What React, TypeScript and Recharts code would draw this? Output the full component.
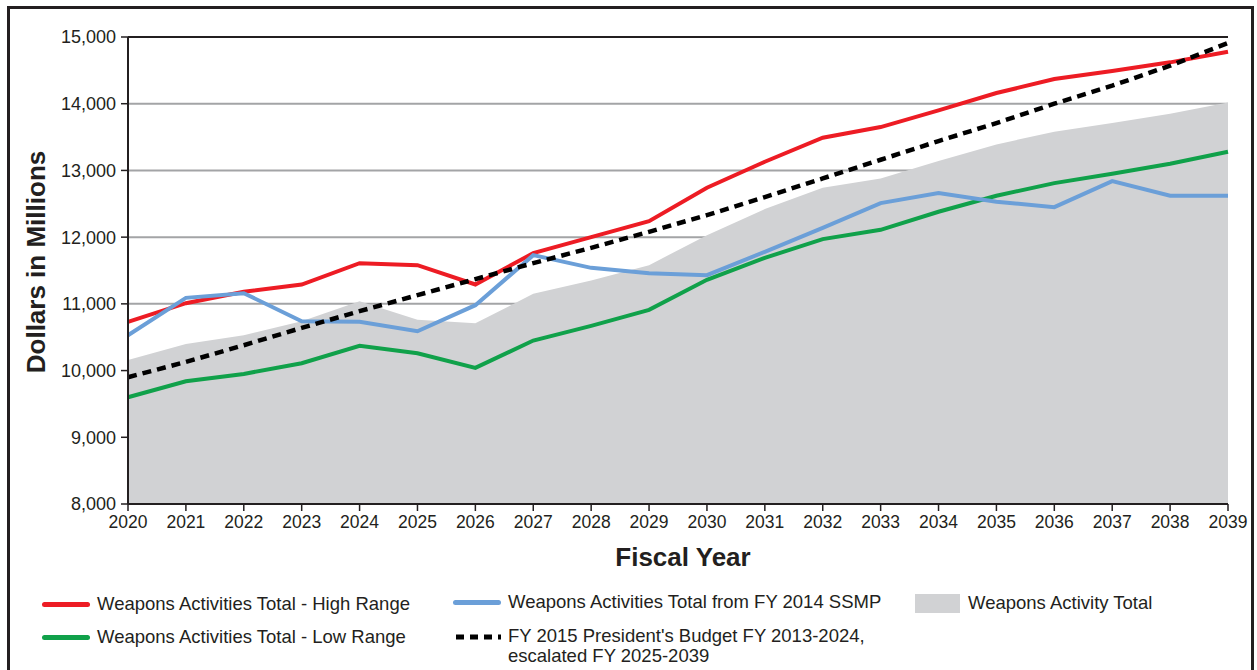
import React from 'react';
import { ComposedChart, Area, Line, XAxis, YAxis, CartesianGrid, ReferenceLine } from 'recharts';

const years = [2020, 2021, 2022, 2023, 2024, 2025, 2026, 2027, 2028, 2029, 2030, 2031, 2032, 2033, 2034, 2035, 2036, 2037, 2038, 2039];
const highRange = [10730, 11010, 11180, 11290, 11610, 11580, 11290, 11760, 12000, 12240, 12740, 13130, 13490, 13650, 13900, 14160, 14370, 14490, 14620, 14780];
const lowRange = [9600, 9840, 9950, 10110, 10370, 10260, 10040, 10450, 10670, 10910, 11360, 11690, 11970, 12110, 12380, 12620, 12810, 12950, 13100, 13280];
const ssmp2014 = [10530, 11090, 11160, 10740, 10730, 10590, 10980, 11730, 11540, 11460, 11430, 11780, 12140, 12510, 12660, 12530, 12450, 12840, 12620, 12620];
const pb2015 = [9900, 10130, 10380, 10640, 10890, 11130, 11370, 11610, 11840, 12080, 12330, 12600, 12880, 13160, 13440, 13710, 14000, 14270, 14570, 14910];
const activityTotal = [10160, 10400, 10530, 10740, 11040, 10760, 10710, 11150, 11350, 11580, 12030, 12420, 12740, 12880, 13140, 13390, 13580, 13710, 13850, 14020];
const yTicks = [8000, 9000, 10000, 11000, 12000, 13000, 14000, 15000];

const data = years.map((year, i) => ({
  year,
  high: highRange[i],
  low: lowRange[i],
  ssmp: ssmp2014[i],
  pb: pb2015[i],
  total: activityTotal[i],
}));

const FONT = '"Liberation Sans", Arial, Helvetica, sans-serif';
const RED = '#ed1c24';
const GREEN = '#10a14a';
const BLUE = '#6b9fd8';
const GRAY = '#d1d2d4';
const INK = '#231f20';

const legendText: React.CSSProperties = {
  position: 'absolute',
  fontFamily: FONT,
  fontSize: 18.5,
  color: INK,
  lineHeight: '20px',
  whiteSpace: 'nowrap',
};

const LineSwatch = ({ x, y, color }: { x: number; y: number; color: string }) => (
  <div style={{ position: 'absolute', left: x, top: y - 2.5, width: 48, height: 5, borderRadius: 3, background: color }} />
);

const App: React.FC = () => {
  return (
    <div style={{ position: 'fixed', left: 0, top: 0, width: 1257, height: 670, background: '#fff', overflow: 'hidden' }}>
      <div style={{ position: 'absolute', left: 7, top: 6, width: 1241, height: 700, border: `3px solid ${INK}` }} />

      <div style={{ position: 'absolute', left: 0, top: 0 }}>
        <ComposedChart width={1257} height={540} data={data} margin={{ top: 37, right: 29, left: 0, bottom: 0 }}>
          <CartesianGrid vertical={false} stroke="#a3a4a6" strokeWidth={2} />
          <XAxis
            dataKey="year"
            type="number"
            domain={[2020, 2039]}
            ticks={years}
            height={36}
            tickSize={7}
            tickMargin={5}
            axisLine={{ stroke: INK, strokeWidth: 2 }}
            tickLine={{ stroke: INK, strokeWidth: 1.5 }}
            tick={{ fill: INK, fontSize: 17.5, fontFamily: FONT }}
          />
          <YAxis
            type="number"
            domain={[8000, 15000]}
            ticks={yTicks}
            width={128}
            tickSize={7}
            tickMargin={5}
            axisLine={{ stroke: INK, strokeWidth: 2 }}
            tickLine={{ stroke: INK, strokeWidth: 1.5 }}
            tick={{ fill: INK, fontSize: 18, fontFamily: FONT }}
            tickFormatter={(v: number) => v.toLocaleString('en-US')}
          />
          <Area dataKey="total" type="linear" fill={GRAY} fillOpacity={1} stroke="none" isAnimationActive={false} />
          <ReferenceLine y={15000} stroke={INK} strokeWidth={2} />
          <Line dataKey="low" type="linear" stroke={GREEN} strokeWidth={4} dot={false} isAnimationActive={false} />
          <Line dataKey="high" type="linear" stroke={RED} strokeWidth={4} dot={false} isAnimationActive={false} />
          <Line dataKey="ssmp" type="linear" stroke={BLUE} strokeWidth={4} dot={false} isAnimationActive={false} />
          <Line dataKey="pb" type="linear" stroke="#000" strokeWidth={4.5} strokeDasharray="9 6" dot={false} isAnimationActive={false} />
        </ComposedChart>
      </div>

      <div
        style={{
          position: 'absolute',
          left: 36,
          top: 262,
          transform: 'translate(-50%, -50%) rotate(-90deg)',
          transformOrigin: 'center',
          fontFamily: FONT,
          fontWeight: 'bold',
          fontSize: 26,
          color: INK,
          whiteSpace: 'nowrap',
        }}
      >
        Dollars in Millions
      </div>
      <div
        style={{
          position: 'absolute',
          left: 683,
          top: 557,
          transform: 'translate(-50%, -50%)',
          fontFamily: FONT,
          fontWeight: 'bold',
          fontSize: 26,
          color: INK,
          whiteSpace: 'nowrap',
        }}
      >
        Fiscal Year
      </div>

      {/* legend */}
      <LineSwatch x={42} y={604} color={RED} />
      <div style={{ ...legendText, left: 97, top: 594 }}>Weapons Activities Total - High Range</div>
      <LineSwatch x={42} y={637} color={GREEN} />
      <div style={{ ...legendText, left: 97, top: 627 }}>Weapons Activities Total - Low Range</div>

      <LineSwatch x={453} y={602} color={BLUE} />
      <div style={{ ...legendText, left: 508, top: 592 }}>Weapons Activities Total from FY 2014 SSMP</div>
      <svg style={{ position: 'absolute', left: 453, top: 632 }} width={50} height={10}>
        <line x1={3} y1={5} x2={48} y2={5} stroke="#000" strokeWidth={5} strokeDasharray="8 6" />
      </svg>
      <div style={{ ...legendText, left: 508, top: 626 }}>
        FY 2015 President's Budget FY 2013-2024,
        <br />
        escalated FY 2025-2039
      </div>

      <div style={{ position: 'absolute', left: 915, top: 594, width: 45, height: 19, background: GRAY }} />
      <div style={{ ...legendText, left: 968, top: 593 }}>Weapons Activity Total</div>
    </div>
  );
};

export default App;
